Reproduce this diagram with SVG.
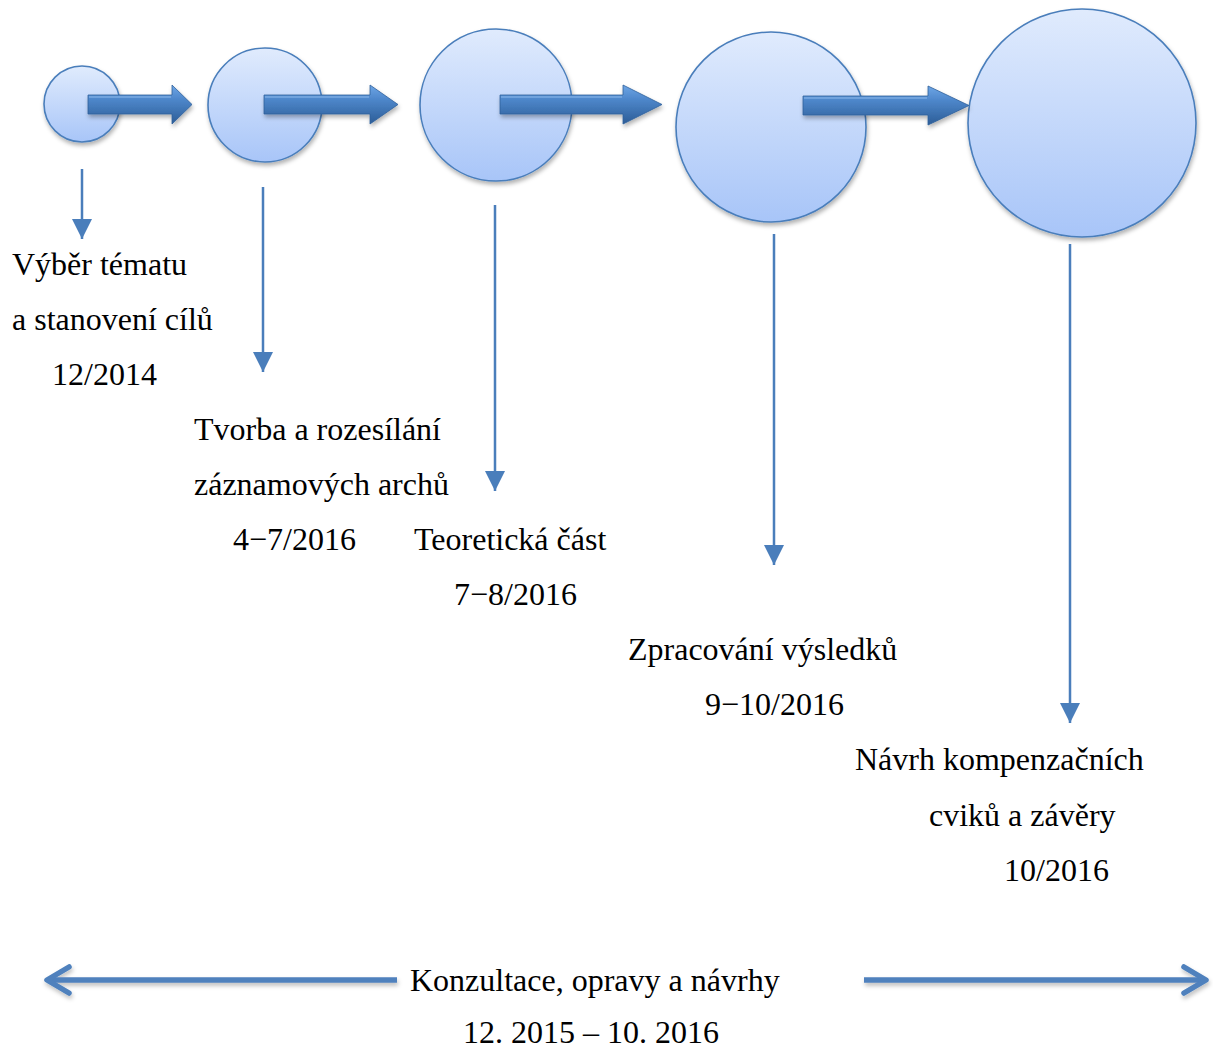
<svg xmlns="http://www.w3.org/2000/svg" width="1213" height="1050" viewBox="0 0 1213 1050">
  <style>
    .lbl { font-family: "Liberation Serif", "Times New Roman", serif; font-size: 32px; fill: #000; }
    .node circle { fill: url(#cfill); stroke: #4a7ebb; stroke-width: 1.6; filter: url(#shadow); }
    .blk { fill: url(#afill); stroke: #2f5f9a; stroke-width: 0.8; filter: url(#shadow); }
    .hl { fill: none; stroke: #9cc6f2; stroke-width: 1.2; opacity: 0.8; }
    .vline { stroke: #4a7ebb; stroke-width: 2.5; fill: none; marker-end: url(#tri); }
    .hline { stroke: #4f81bd; stroke-width: 5.5; fill: none; filter: url(#shadow2); }
  </style>
  <defs>
    <linearGradient id="cfill" x1="0" y1="0" x2="0" y2="1">
      <stop offset="0" stop-color="#e0ebfd"/>
      <stop offset="1" stop-color="#a8c5f8"/>
    </linearGradient>
    <linearGradient id="afill" x1="0" y1="0" x2="0" y2="1">
      <stop offset="0" stop-color="#6ea6e6"/>
      <stop offset="0.35" stop-color="#4f88cc"/>
      <stop offset="1" stop-color="#2c5d97"/>
    </linearGradient>
    <filter id="shadow" x="-20%" y="-20%" width="140%" height="150%">
      <feDropShadow dx="1" dy="3" stdDeviation="2" flood-color="#000" flood-opacity="0.3"/>
    </filter>
    <filter id="shadow2" filterUnits="userSpaceOnUse" x="0" y="900" width="1213" height="150">
      <feDropShadow dx="1" dy="3" stdDeviation="2" flood-color="#000" flood-opacity="0.25"/>
    </filter>
    <marker id="tri" markerUnits="userSpaceOnUse" markerWidth="20" markerHeight="20" refX="16" refY="8" orient="auto" viewBox="0 0 16 16">
      <path d="M0,0 L16,8 L0,16 Z" fill="#4a7ebb"/>
    </marker>
    <marker id="chev" markerUnits="userSpaceOnUse" markerWidth="40" markerHeight="40" refX="30" refY="20" orient="auto" viewBox="0 0 40 40">
      <path d="M8,7 L30,20 L8,33" fill="none" stroke="#4f81bd" stroke-width="5.5" stroke-linecap="round" stroke-linejoin="round"/>
    </marker>
  </defs>

  <rect width="1213" height="1050" fill="#fff"/>

  <g id="node-1" class="node"><circle cx="82" cy="104" r="38"/></g>
  <g id="node-2" class="node"><circle cx="265" cy="105" r="57"/></g>
  <g id="node-3" class="node"><circle cx="496" cy="105" r="76"/></g>
  <g id="node-4" class="node"><circle cx="771" cy="127" r="95"/></g>
  <g id="node-5" class="node"><circle cx="1082" cy="123" r="114"/></g>

  <g id="connectors">
    <path class="blk" d="M88,95 L172,95 L172,85 L192,104.5 L172,124 L172,114 L88,114 Z"/>
    <path class="hl" d="M89,97 L171,97"/>
    <path class="blk" d="M264,95 L370,95 L370,85 L398,104.5 L370,124 L370,114 L264,114 Z"/>
    <path class="hl" d="M265,97 L369,97"/>
    <path class="blk" d="M500,95 L623,95 L623,85 L662,104.5 L623,124 L623,114 L500,114 Z"/>
    <path class="hl" d="M501,97 L622,97"/>
    <path class="blk" d="M803,96 L928,96 L928,86 L969,105.5 L928,125 L928,115 L803,115 Z"/>
    <path class="hl" d="M804,98 L927,98"/>

    <path class="vline" d="M82,169 L82,239"/>
    <path class="vline" d="M263,187 L263,372"/>
    <path class="vline" d="M495,205 L495,491"/>
    <path class="vline" d="M774,234 L774,565"/>
    <path class="vline" d="M1070,244 L1070,723"/>

    <path class="hline" d="M397,980 L47,980" marker-end="url(#chev)"/>
    <path class="hline" d="M864,980 L1206,980" marker-end="url(#chev)"/>
  </g>

  <g id="label-1" class="lbl">
    <text x="12" y="275">Výběr tématu</text>
    <text x="12" y="330">a stanovení cílů</text>
    <text x="52" y="385">12/2014</text>
  </g>
  <g id="label-2" class="lbl">
    <text x="194" y="440">Tvorba a rozesílání</text>
    <text x="194" y="495">záznamových archů</text>
    <text x="233" y="550">4−7/2016</text>
  </g>
  <g id="label-3" class="lbl">
    <text x="414" y="550">Teoretická část</text>
    <text x="454" y="605">7−8/2016</text>
  </g>
  <g id="label-4" class="lbl">
    <text x="628" y="660">Zpracování výsledků</text>
    <text x="705" y="715">9−10/2016</text>
  </g>
  <g id="label-5" class="lbl">
    <text x="855" y="770">Návrh kompenzačních</text>
    <text x="929" y="826">cviků a závěry</text>
    <text x="1004" y="881">10/2016</text>
  </g>
  <g id="label-6" class="lbl">
    <text x="410" y="991">Konzultace, opravy a návrhy</text>
    <text x="463" y="1043">12. 2015 – 10. 2016</text>
  </g>
</svg>
